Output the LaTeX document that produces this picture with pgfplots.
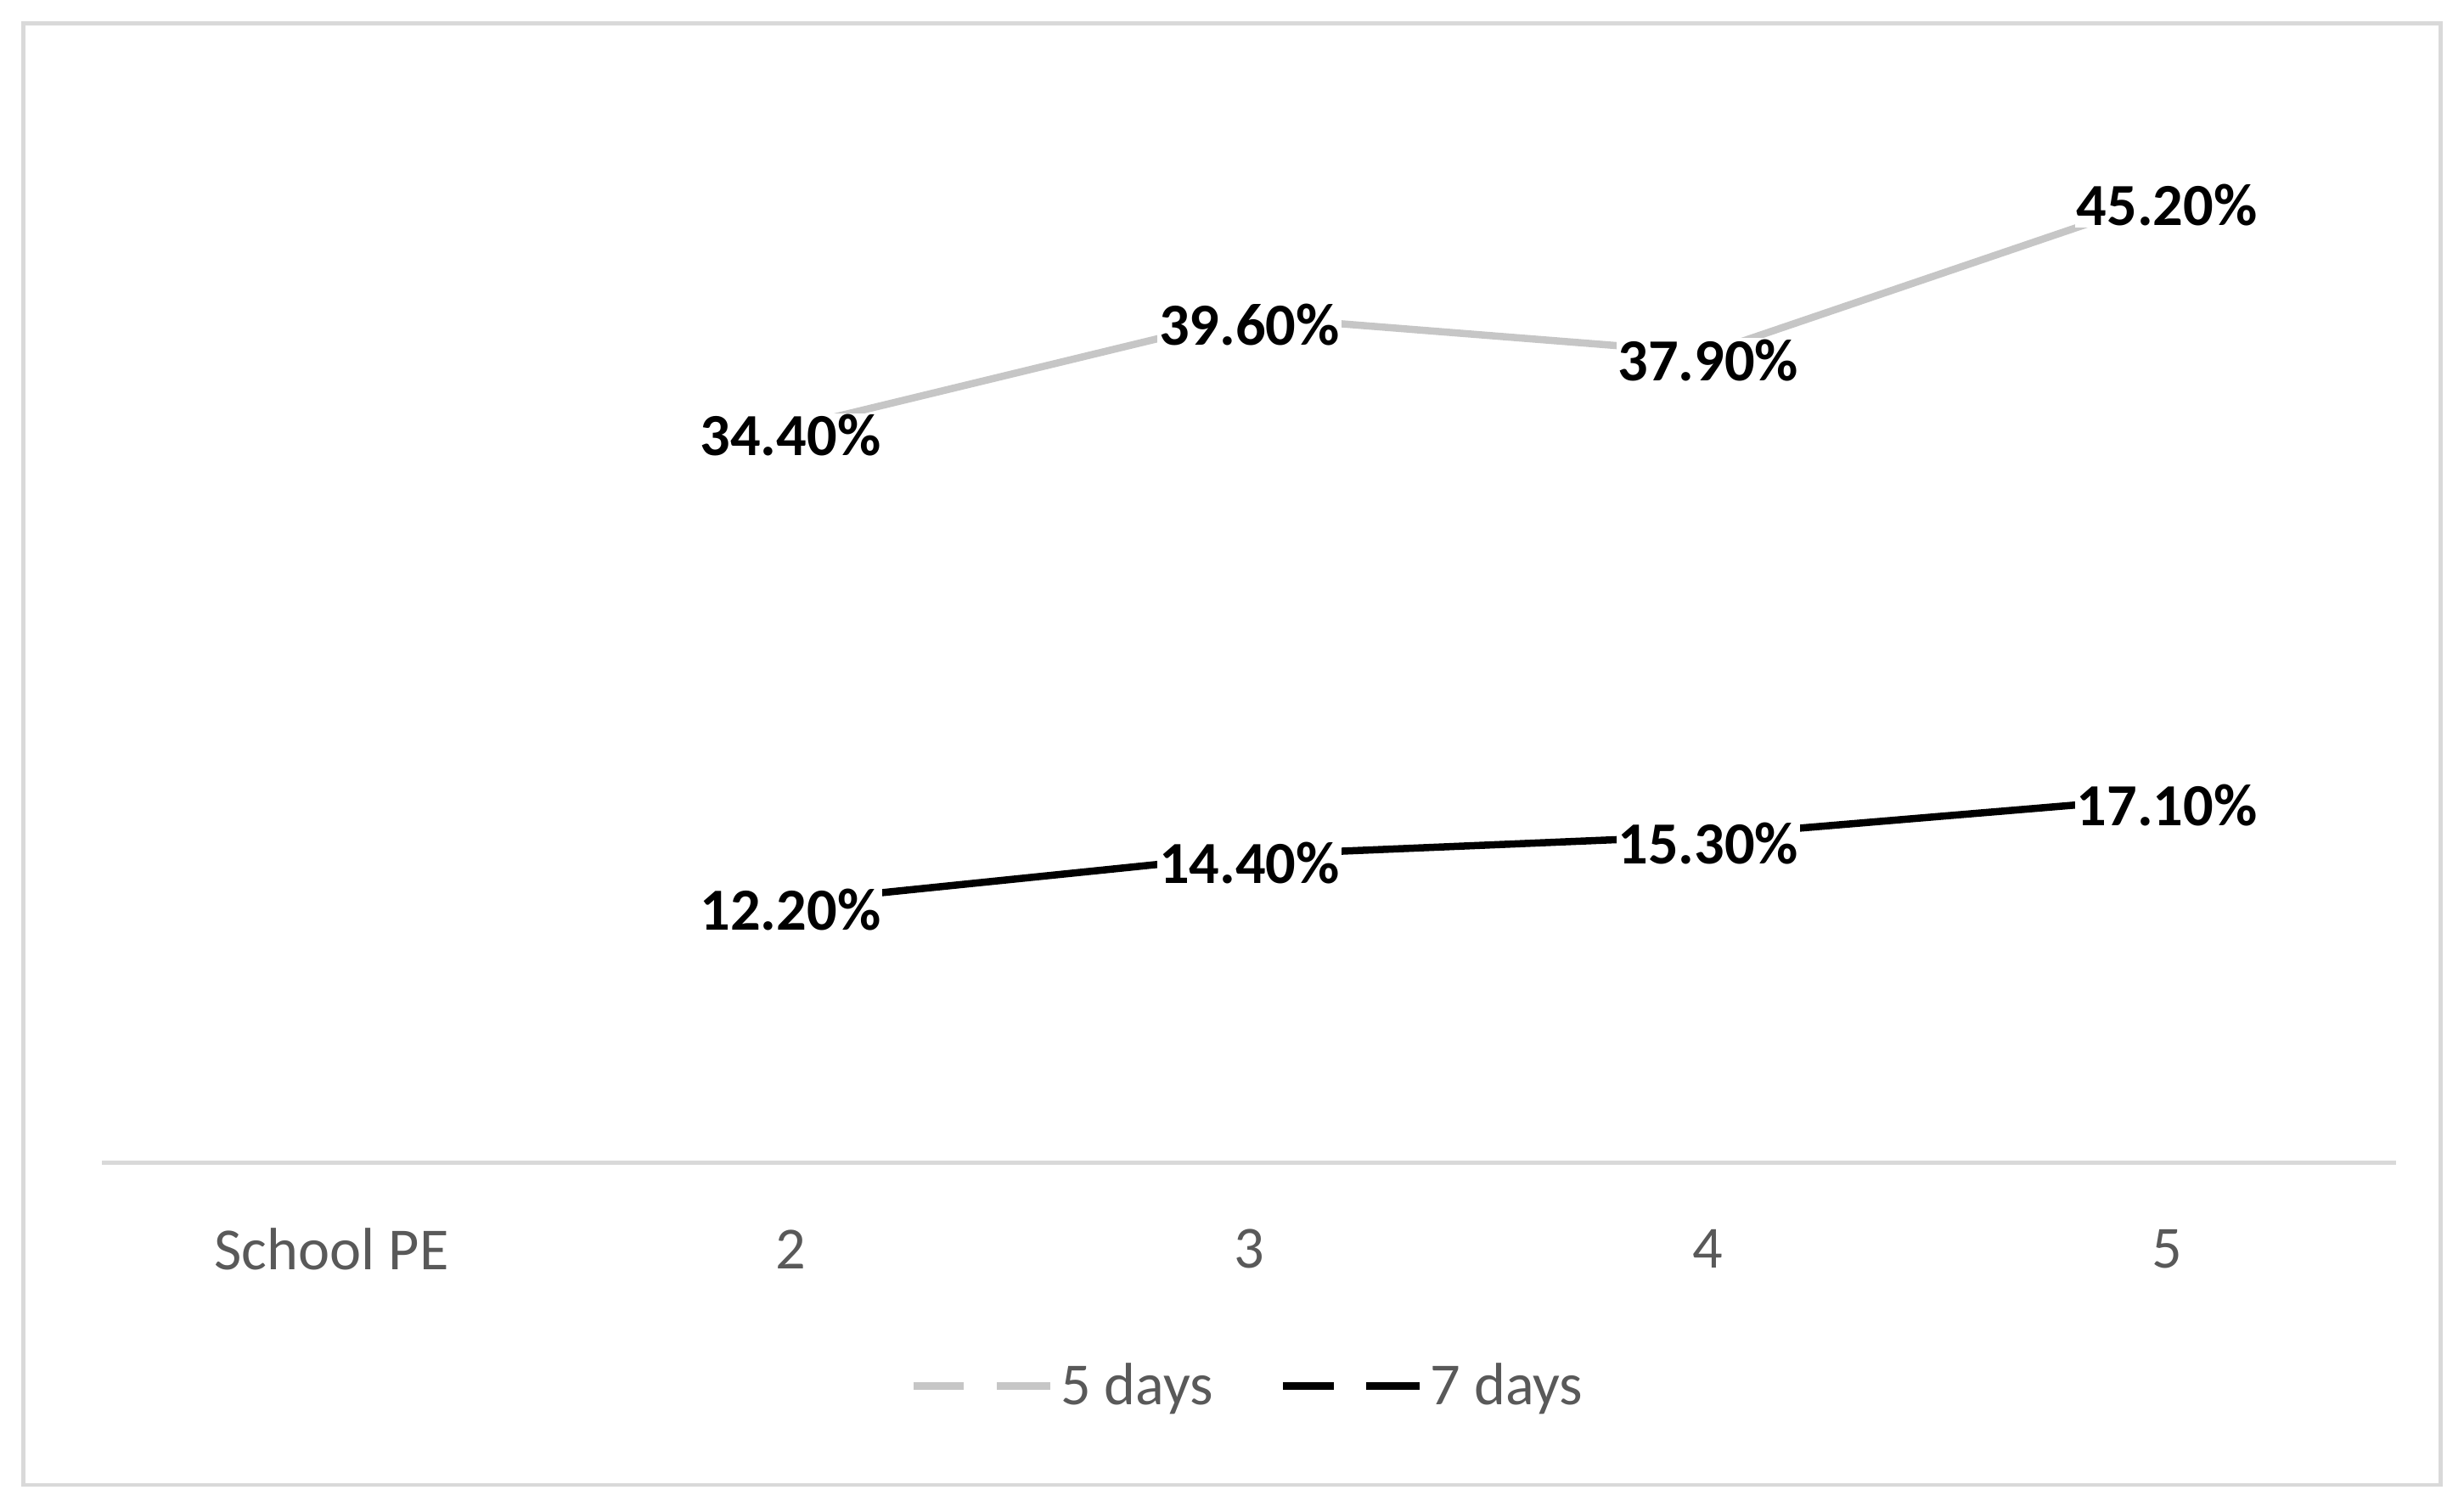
\documentclass[border=0pt]{standalone}
\usepackage{pgfplots}
\pgfplotsset{compat=1.18}
\usepackage{fontspec}
\setmainfont{Carlito}
\definecolor{lgray}{HTML}{C6C6C6}
\definecolor{axgray}{HTML}{D9D9D9}
\definecolor{txtgray}{HTML}{595959}
\begin{document}
\begin{tikzpicture}
\useasboundingbox (-32.5pt,-104pt) rectangle (751.5pt,370pt);
\draw[axgray, line width=1.3pt] (-25pt,-102.5pt) rectangle (744pt,362.5pt);
\begin{axis}[
  at={(0pt,0pt)}, anchor=south west,
  scale only axis, width=730pt, height=340pt,
  xmin=-0.5, xmax=4.5, ymin=0, ymax=50,
  clip=false,
  axis y line=none,
  axis x line*=bottom,
  x axis line style={axgray, line width=1.2pt, -},
  xtick={0,1,2,3,4},
  xticklabels={School PE,2,3,4,5},
  major tick length=0pt,
  xticklabel style={font=\fontsize{19}{22}\selectfont, text=txtgray, anchor=center, yshift=-27.5pt},
  legend style={at={(0.5,-0.209)}, anchor=center, draw=none, fill=none,
    font=\fontsize{19}{22}\selectfont, text=txtgray,
    /tikz/every even column/.append style={column sep=19pt}},
  legend columns=2,
  legend image code/.code={\draw[#1, line width=2.6pt] (0pt,0pt) -- (16pt,0pt); \draw[#1, line width=2.6pt] (26.5pt,0pt) -- (43.5pt,0pt);},
  nodes near coords={\pgfmathprintnumber[fixed,fixed zerofill,precision=2,assume math mode=true]{\pgfplotspointmeta}\%},
  every node near coord/.append style={anchor=center, font=\bfseries\fontsize{19}{22}\selectfont, text=black, fill=white, inner sep=0.5pt, yshift=-2.5pt},
]
\addplot[lgray, line width=2.3pt] coordinates {(1,34.4) (2,39.6) (3,37.9) (4,45.2)};
\addlegendentry{5 days}
\addplot[black, line width=2.3pt] coordinates {(1,12.2) (2,14.4) (3,15.3) (4,17.1)};
\addlegendentry{7 days}
\end{axis}
\end{tikzpicture}
\end{document}
